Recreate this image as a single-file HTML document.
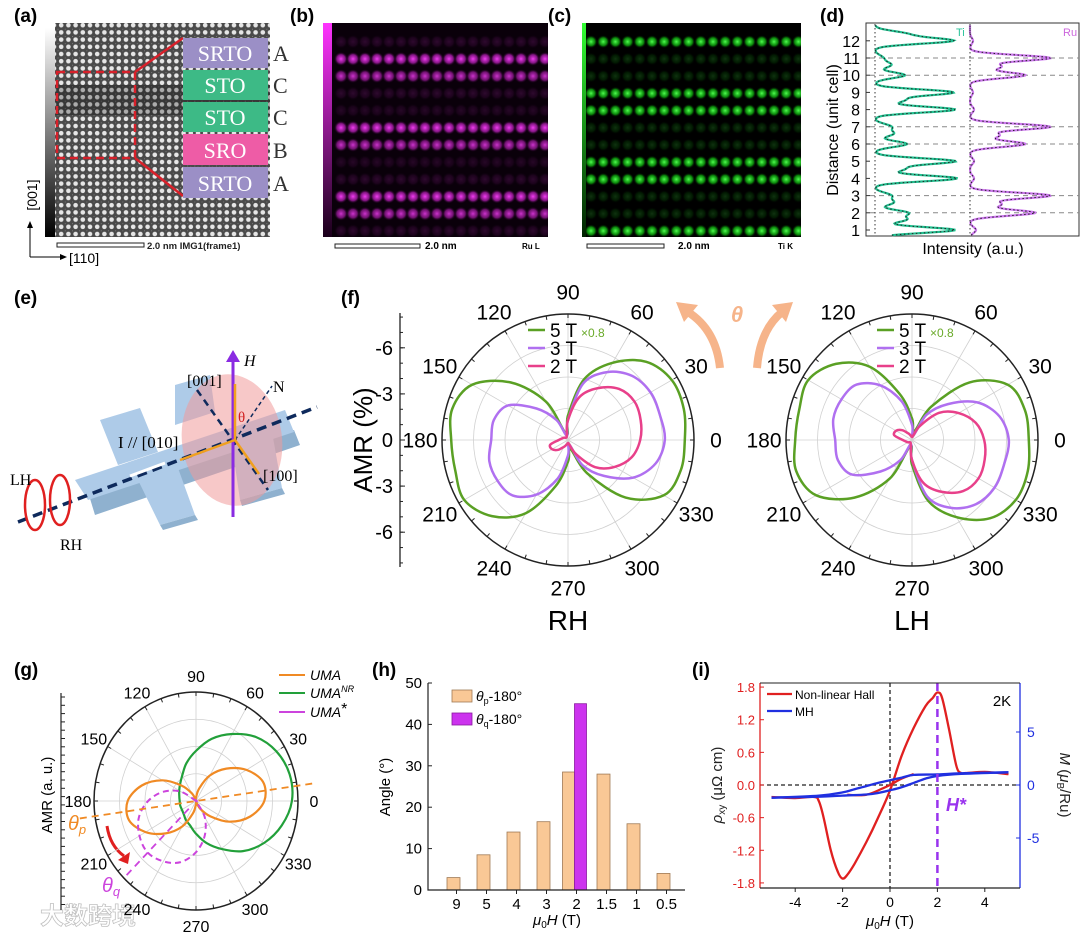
<!DOCTYPE html>
<html><head><meta charset="utf-8"><style>
html,body{margin:0;padding:0;background:#fff;}
svg{display:block;font-family:"Liberation Sans",Arial,sans-serif;}
.serif{font-family:"Liberation Serif","Times New Roman",serif;}
</style></head><body>
<svg id="fig" xmlns="http://www.w3.org/2000/svg" width="1080" height="936" viewBox="0 0 1080 936">
<defs>
 <linearGradient id="gcbar" x1="0" y1="0" x2="0" y2="1"><stop offset="0" stop-color="#fff"/><stop offset="1" stop-color="#000"/></linearGradient>
 <linearGradient id="mcbar" x1="0" y1="0" x2="0" y2="1"><stop offset="0" stop-color="#ff33ff"/><stop offset="1" stop-color="#1a001a"/></linearGradient>
 <linearGradient id="ccbar" x1="0" y1="0" x2="0" y2="1"><stop offset="0" stop-color="#33ff33"/><stop offset="1" stop-color="#002200"/></linearGradient>
 <radialGradient id="mdot"><stop offset="0" stop-color="#ff40ff"/><stop offset="0.6" stop-color="#c020c0" stop-opacity="0.7"/><stop offset="1" stop-color="#200020" stop-opacity="0"/></radialGradient>
 <radialGradient id="gdot"><stop offset="0" stop-color="#50ff50"/><stop offset="0.6" stop-color="#10c010" stop-opacity="0.7"/><stop offset="1" stop-color="#002000" stop-opacity="0"/></radialGradient>
 <pattern id="stem" width="7.2" height="7.2" patternUnits="userSpaceOnUse"><rect width="7.2" height="7.2" fill="#4a4a4a"/><circle cx="3.6" cy="3.6" r="2.3" fill="#e6e6e6"/><circle cx="0" cy="0" r="1" fill="#888"/></pattern>
 <clipPath id="clipb"><rect x="332" y="23" width="216" height="214"/></clipPath>
 <clipPath id="clipc"><rect x="586" y="23" width="215" height="214"/></clipPath>
</defs>

<g>
 <text x="14" y="22" font-size="19" font-weight="bold">(a)</text>
 <rect x="45" y="28" width="10" height="209" fill="url(#gcbar)"/>
 <rect x="55" y="23" width="215" height="214" fill="url(#stem)"/>
 <rect x="55" y="85" width="215" height="30" fill="#000" opacity="0.25"/>
 <rect x="57" y="72" width="78" height="86" fill="none" stroke="#d8202a" stroke-width="2.5" stroke-dasharray="8,5"/>
 <line x1="135" y1="72" x2="183" y2="38" stroke="#d8202a" stroke-width="2.5"/>
 <line x1="135" y1="158" x2="183" y2="196" stroke="#d8202a" stroke-width="2.5"/>
 <g class="serif" font-size="22" fill="#fff" text-anchor="middle">
  <rect x="183" y="38" width="85" height="30" fill="#9b8fc6"/><text x="225" y="61">SRTO</text>
  <rect x="183" y="70" width="85" height="30" fill="#3dba86"/><text x="225" y="93">STO</text>
  <rect x="183" y="102" width="85" height="30" fill="#3dba86"/><text x="225" y="125">STO</text>
  <rect x="183" y="134" width="85" height="31" fill="#ee5ca6"/><text x="225" y="158">SRO</text>
  <rect x="183" y="167" width="85" height="31" fill="#9b8fc6"/><text x="225" y="191">SRTO</text>
 </g>
 <g class="serif" font-size="22" fill="#333">
  <text x="273" y="61">A</text>
  <text x="273" y="93">C</text>
  <text x="273" y="125">C</text>
  <text x="273" y="158">B</text>
  <text x="273" y="191">A</text>
 </g>
 <rect x="57" y="243" width="87" height="4" fill="#fff" stroke="#222"/>
 <text x="147" y="249" font-size="9.5" font-weight="bold" fill="#222">2.0 nm IMG1(frame1)</text>
 <line x1="30" y1="257" x2="30" y2="226" stroke="#000"/>
 <polygon points="27,228 33,228 30,221"/>
 <line x1="30" y1="257" x2="62" y2="257" stroke="#000"/>
 <polygon points="60,254 60,260 67,257"/>
 <text transform="translate(37,195) rotate(-90)" font-size="14" text-anchor="middle">[001]</text>
 <text x="69" y="263" font-size="14">[110]</text>
</g>

<g>
 <text x="290" y="22" font-size="19" font-weight="bold">(b)</text>
 <rect x="323" y="23" width="225" height="214" fill="#0a000a"/>
 <rect x="323" y="23" width="9" height="214" fill="url(#mcbar)"/>
 <g id="bdots" clip-path="url(#clipb)"></g>
 <rect x="335" y="244" width="85" height="4" fill="#fff" stroke="#222"/>
 <text x="425" y="249" font-size="10" font-weight="bold">2.0 nm</text>
 <text x="522" y="249" font-size="8" font-weight="bold">Ru L</text>
</g>

<g>
 <text x="548" y="22" font-size="19" font-weight="bold">(c)</text>
 <rect x="582" y="23" width="219" height="214" fill="#000"/>
 <rect x="582" y="23" width="4" height="214" fill="url(#ccbar)"/>
 <g id="cdots" clip-path="url(#clipc)"></g>
 <rect x="587" y="244" width="77" height="4" fill="#fff" stroke="#222"/>
 <text x="678" y="249" font-size="10" font-weight="bold">2.0 nm</text>
 <text x="778" y="249" font-size="8" font-weight="bold">Ti K</text>
</g>

<g id="pd">
 <text x="820" y="22" font-size="19" font-weight="bold">(d)</text>
 <rect x="866" y="23" width="213" height="213" fill="none" stroke="#333"/>
 <text transform="translate(838,130) rotate(-90)" font-size="16" text-anchor="middle">Distance (unit cell)</text>
 <text x="973" y="254" font-size="16" text-anchor="middle">Intensity (a.u.)</text>
 <text x="956" y="36" font-size="11" fill="#2cc39a">Ti</text>
 <text x="1063" y="36" font-size="11" fill="#cc66dd">Ru</text>
</g>

<g>
 <text x="14" y="304" font-size="19" font-weight="bold">(e)</text>
 <g>
  <polygon points="88,492 95,515 300,445 294,430" fill="#8fb1cf"/>
  <polygon points="75,480 88,500 294,432 285,410" fill="#aecbe8"/>
  <polygon points="118,465 100,420 140,408 158,452" fill="#aecbe8"/>
  <polygon points="175,425 175,385 210,375 215,412" fill="#aecbe8"/>
  <polygon points="138,480 160,525 195,515 178,468" fill="#aecbe8"/>
  <polygon points="160,525 163,530 198,520 195,515" fill="#8fb1cf"/>
  <polygon points="232,445 240,500 282,488 272,432" fill="#aecbe8"/>
  <polygon points="240,500 242,506 285,494 282,488" fill="#8fb1cf"/>
 </g>
 <ellipse cx="232" cy="440" rx="50" ry="66" fill="#f09a9a" opacity="0.55" transform="rotate(-8 232 440)"/>
 <line x1="18" y1="522" x2="317" y2="407" stroke="#0e2a5c" stroke-width="3.5" stroke-dasharray="10,6"/>
 <line x1="197" y1="390" x2="268" y2="490" stroke="#0e2a5c" stroke-width="2.5" stroke-dasharray="7,5"/>
 <line x1="235" y1="440" x2="272" y2="386" stroke="#0e2a5c" stroke-width="1.5" stroke-dasharray="4,3"/>
 <line x1="233" y1="517" x2="233" y2="358" stroke="#8a2be2" stroke-width="3"/>
 <polygon points="226,362 240,362 233,350" fill="#8a2be2"/>
 <line x1="235" y1="440" x2="235" y2="384" stroke="#f0a020" stroke-width="2.5"/>
 <line x1="235" y1="440" x2="259" y2="474" stroke="#f0a020" stroke-width="2.5"/>
 <line x1="235" y1="440" x2="180" y2="460" stroke="#f0a020" stroke-width="2.5"/>
 <path d="M130,476 L165,463" stroke="#fff" stroke-width="3"/>
 <text x="244" y="366" class="serif" font-size="16" font-style="italic">H</text>
 <text x="187" y="386" class="serif" font-size="16">[001]</text>
 <text x="273" y="392" class="serif" font-size="16">N</text>
 <text x="238" y="422" class="serif" font-size="15" fill="#d02020">θ</text>
 <text x="263" y="481" class="serif" font-size="16">[100]</text>
 <text x="118" y="448" class="serif" font-size="17">I // [010]</text>
 <ellipse cx="35" cy="505" rx="10" ry="25" fill="none" stroke="#e02020" stroke-width="2.5"/>
 <ellipse cx="60" cy="500" rx="10" ry="25" fill="none" stroke="#e02020" stroke-width="2.5"/>
 <text x="10" y="485" class="serif" font-size="16">LH</text>
 <text x="60" y="550" class="serif" font-size="16">RH</text>
</g>

<g id="pf">
 <text x="341" y="304" font-size="19" font-weight="bold">(f)</text>
 <text transform="translate(372,440) rotate(-90)" font-size="26" text-anchor="middle">AMR (%)</text>
 <text x="568" y="630" font-size="28" text-anchor="middle">RH</text>
 <text x="912" y="630" font-size="28" text-anchor="middle">LH</text>
 <path d="M720,368 Q716,330 688,312" fill="none" stroke="#f6b48a" stroke-width="8"/>
 <polygon points="676,302 698,305 684,322" fill="#f6b48a"/>
 <path d="M757,368 Q760,330 782,312" fill="none" stroke="#f6b48a" stroke-width="8"/>
 <polygon points="793,302 772,305 786,322" fill="#f6b48a"/>
 <text x="737" y="322" font-size="22" font-weight="bold" font-style="italic" fill="#f6b48a" text-anchor="middle">θ</text>
</g>

<g id="pg">
 <text x="14" y="676" font-size="19" font-weight="bold">(g)</text>
 <text transform="translate(52,795) rotate(-90)" font-size="15" text-anchor="middle">AMR (a. u.)</text>
 <text x="68" y="830" font-size="20" font-style="italic" fill="#f08a24">θ<tspan font-size="13" dy="4">p</tspan></text>
 <text x="102" y="892" font-size="20" font-style="italic" fill="#cc44dd">θ<tspan font-size="13" dy="4">q</tspan></text>
 <path d="M107,826 Q110,846 124,856" fill="none" stroke="#e02020" stroke-width="3"/>
 <polygon points="118,860 130,852 128,864" fill="#e02020"/>
 <g>
  <line x1="279" y1="675" x2="305" y2="675" stroke="#f08a24" stroke-width="2"/>
  <text x="310" y="680" font-size="14" font-style="italic">UMA</text>
  <line x1="279" y1="693" x2="305" y2="693" stroke="#22a03a" stroke-width="2"/>
  <text x="310" y="698" font-size="14" font-style="italic">UMA<tspan font-size="9" dy="-6">NR</tspan></text>
  <line x1="279" y1="712" x2="305" y2="712" stroke="#cc44dd" stroke-width="2"/>
  <text x="310" y="717" font-size="14" font-style="italic">UMA<tspan font-size="16" dy="-3" font-style="normal">*</tspan></text>
 </g>
 <text x="40" y="924" font-size="24" font-weight="bold" fill="#fff" stroke="#bbb" stroke-width="0.8" opacity="0.9" font-family="'Liberation Sans','Noto Sans CJK SC',sans-serif">大数跨境</text>
</g>

<g id="ph">
 <text x="372" y="676" font-size="19" font-weight="bold">(h)</text>
 <text transform="translate(390,787) rotate(-90)" font-size="15" text-anchor="middle">Angle (°)</text>
 <text x="557" y="925" font-size="15" text-anchor="middle"><tspan font-style="italic">μ</tspan><tspan font-size="10" dy="3">0</tspan><tspan dy="-3" font-style="italic">H</tspan> (T)</text>
 <rect x="452" y="690" width="20" height="12" fill="#f9c896" stroke="#a07a55" stroke-width="0.8"/>
 <text x="476" y="701" font-size="14"><tspan font-style="italic">θ</tspan><tspan font-size="9" dy="3">p</tspan><tspan dy="-3">-180°</tspan></text>
 <rect x="452" y="713" width="20" height="12" fill="#cc33ee" stroke="#8a1aa0" stroke-width="0.8"/>
 <text x="476" y="724" font-size="14"><tspan font-style="italic">θ</tspan><tspan font-size="9" dy="3">q</tspan><tspan dy="-3">-180°</tspan></text>
</g>

<g id="pi">
 <text x="692" y="676" font-size="19" font-weight="bold">(i)</text>
 <text transform="translate(722,785) rotate(-90)" font-size="15" fill="#222" text-anchor="middle"><tspan font-style="italic">ρ</tspan><tspan font-size="10" dy="3">xy</tspan><tspan dy="-3"> (μΩ cm)</tspan></text>
 <text transform="translate(1060,785) rotate(90)" font-size="15" fill="#222" text-anchor="middle"><tspan font-style="italic">M</tspan> (<tspan font-style="italic">μ</tspan><tspan font-size="10" dy="3">B</tspan><tspan dy="-3">/Ru)</tspan></text>
 <text x="890" y="926" font-size="15" text-anchor="middle"><tspan font-style="italic">μ</tspan><tspan font-size="10" dy="3">0</tspan><tspan dy="-3" font-style="italic">H</tspan> (T)</text>
 <text x="1002" y="706" font-size="15" text-anchor="middle">2K</text>
 <line x1="767" y1="694" x2="792" y2="694" stroke="#e02020" stroke-width="2.2"/>
 <text x="795" y="699" font-size="12">Non-linear Hall</text>
 <line x1="767" y1="711" x2="792" y2="711" stroke="#2030e0" stroke-width="2.2"/>
 <text x="795" y="716" font-size="12">MH</text>
 <text x="946" y="811" font-size="18" font-weight="bold" font-style="italic" fill="#9933ee">H*</text>
</g>
</svg>

<script>
const NS='http://www.w3.org/2000/svg';
function mk(tag,attrs,parent){const e=document.createElementNS(NS,tag);for(const k in attrs)e.setAttribute(k,attrs[k]);parent.appendChild(e);return e;}
function smooth(pts,closed){
 const n=pts.length;let d='M'+pts[0][0].toFixed(1)+','+pts[0][1].toFixed(1);
 const get=i=>closed?pts[(i+n)%n]:pts[Math.max(0,Math.min(n-1,i))];
 const m=closed?n:n-1;
 for(let i=0;i<m;i++){const p0=get(i-1),p1=get(i),p2=get(i+1),p3=get(i+2);
  const c1=[p1[0]+(p2[0]-p0[0])/6,p1[1]+(p2[1]-p0[1])/6],c2=[p2[0]-(p3[0]-p1[0])/6,p2[1]-(p3[1]-p1[1])/6];
  d+='C'+c1[0].toFixed(1)+','+c1[1].toFixed(1)+' '+c2[0].toFixed(1)+','+c2[1].toFixed(1)+' '+p2[0].toFixed(1)+','+p2[1].toFixed(1);}
 return d+(closed?'Z':'');}

const ruRowIntensity=[0.15,0.95,0.8,0.15,0.12,0.95,0.8,0.12,0.15,0.95,0.8,0.15];
const tiRowIntensity=[1,0.2,0.2,1,1,0.2,0.2,1,1,0.2,0.2,1];
(function(){
 const bg=document.getElementById('bdots');
 ruRowIntensity.forEach((v,r)=>{for(let c=0;c<18;c++){
  const e=mk('circle',{cx:341+c*12,cy:41.7+r*17.2,r:7,fill:'url(#mdot)',opacity:v},bg);
  
  }});
 const cg=document.getElementById('cdots');
 tiRowIntensity.forEach((v,r)=>{for(let c=0;c<18;c++){
  const e=mk('circle',{cx:591+c*12.2,cy:41.7+r*17.2,r:6.5,fill:'url(#gdot)',opacity:v},cg);
  
  }});
})();

const dTicks=[1,2,3,4,5,6,7,8,9,10,11,12];
const dDashed=[2,3,6,7,10,11];
const tiPeakPos=[1,1.6,2,2.6,3,4,4.55,5,6,6.6,7,8,8.55,9,10,10.6,11,12,12.4];
const tiPeakAmp=[80,30,32,18,16,82,28,80,32,18,16,80,28,78,30,16,8,77,30];
const ruPeakPos=[1,2,2.5,3,4,5,6,6.5,7,8,9,10,10.5,11,12];
const ruPeakAmp=[6,65,30,80,4,4,55,28,80,4,3,55,30,80,3];
(function(){
 const g=document.getElementById('pd');
 const yD=v=>230-(v-1)*17.2;
 dDashed.forEach(v=>{const e=mk('line',{x1:870,x2:1079,y1:yD(v),y2:yD(v),stroke:'#888','stroke-dasharray':'5,4'},g);
  
  });
 dTicks.forEach(v=>{const t=mk('text',{x:860,y:yD(v)+6,'font-size':16,'text-anchor':'end'},g);t.textContent=v;
  
  
  const l=mk('line',{x1:866,x2:870,y1:yD(v),y2:yD(v),stroke:'#333'},g);
  
  });
 function prof(pos,amp,base,col,name){
  const pts=[];for(let v=0.7;v<=12.9;v+=0.04){let s=0;pos.forEach((p,i)=>{s+=amp[i]*Math.exp(-Math.pow((v-p)/0.17,2)/2);});pts.push([base+s,yD(v)]);}
  const d='M'+pts.map(p=>p[0].toFixed(1)+','+p[1].toFixed(1)).join('L');
  const e=mk('path',{d:d,fill:'none',stroke:col,'stroke-width':2.2},g);
  
  
  const e2=mk('path',{d:d,fill:'none',stroke:'#222','stroke-width':1,'stroke-dasharray':'1.5,2.5'},g);
  
  
  const b=mk('line',{x1:base,x2:base,y1:24,y2:235,stroke:'#333','stroke-dasharray':'1.5,2.5'},g);
  
  }
 prof(tiPeakPos,tiPeakAmp,875,'#22c090','ti-profile');
 prof(ruPeakPos,ruPeakAmp,970,'#cc77ee','ru-profile');
})();

const polarAngles=[0,15,30,45,60,75,90,105,120,135,150,165,180,195,210,225,240,255,270,285,300,315,330,345];
const gridAngles=[0,30,60,90,120,150,180,210,240,270,300,330];
function polarGrid(g,cx,cy,Rx,Ry,fs,off,prefix){
 [0.25,0.5,0.75].forEach(f=>{const e=mk('ellipse',{cx:cx,cy:cy,rx:Rx*f,ry:Ry*f,fill:'none',stroke:'#d0d0d0','stroke-width':0.8},g);
  
  });
 gridAngles.forEach(a=>{const r=a*Math.PI/180;
  const l=mk('line',{x1:cx,y1:cy,x2:cx+Rx*Math.cos(r),y2:cy-Ry*Math.sin(r),stroke:'#d0d0d0','stroke-width':0.8},g);
  
  
  const t=mk('text',{x:cx+(Rx+off)*Math.cos(r),y:cy-(Ry+off)*Math.sin(r)+fs*0.36,'font-size':fs,'text-anchor':'middle'},g);
  t.textContent=a;
  
  });
 const o=mk('ellipse',{cx:cx,cy:cy,rx:Rx,ry:Ry,fill:'none',stroke:'#222','stroke-width':1.5},g);
 
 
 for(let a=0;a<360;a+=10){const r=a*Math.PI/180;
  const tk=mk('line',{x1:cx+Rx*Math.cos(r),y1:cy-Ry*Math.sin(r),x2:cx+(Rx-4)*Math.cos(r),y2:cy-(Ry-4)*Math.sin(r),stroke:'#222'},g);
  
  }}
function polarCurve(g,cx,cy,Rx,Ry,maxV,angles,vals,col,w,dash,closed,name){
 const pts=angles.map((a,i)=>{const r=a*Math.PI/180,v=vals[i]/maxV;return [cx+Rx*v*Math.cos(r),cy-Ry*v*Math.sin(r)];});
 const e=mk('path',{d:smooth(pts,closed),fill:'none',stroke:col,'stroke-width':w,'stroke-dasharray':dash||'none'},g);
 
 }

const fMax=8.2;
const amrTickVals=[-6,-3,0,-3,-6];
const amrTickPos=[6,3,0,-3,-6];
const rh5T=[7.6,7.8,7.8,7.2,5.8,4.1,1.6,0.4,2.9,5.3,7.2,7.8,7.6,7.6,7.8,7.0,5.5,3.1,1.4,0.6,2.5,5.3,7.2,7.6];
const rh3T=[6.3,6.2,6.2,5.9,5.1,3.8,1.3,0.3,1.5,2.9,4.5,5.0,5.0,5.3,5.3,5.1,4.1,2.6,1.0,0.3,1.9,3.3,4.9,5.9];
const rh2T=[4.7,4.9,5.0,4.7,3.9,2.9,1.3,0.3,0.2,0.2,0.3,0.4,0.6,1.2,1.2,0.9,0.5,0.3,0.2,0.3,1.1,2.5,3.5,4.3];
const lh5T=[7.6,7.6,7.2,5.3,2.5,0.6,1.4,3.1,5.5,7.0,7.8,7.6,7.6,7.8,7.2,5.3,2.9,0.4,1.6,4.1,5.8,7.2,7.8,7.8];
const lh3T=[6.3,5.9,4.9,3.3,1.9,0.3,1.0,2.6,4.1,5.1,5.3,5.3,5.0,5.0,4.5,2.9,1.5,0.3,1.3,3.8,5.1,5.9,6.2,6.2];
const lh2T=[4.7,4.3,3.5,2.5,1.1,0.3,0.2,0.3,0.5,0.9,1.2,1.2,0.6,0.4,0.3,0.2,0.2,0.3,1.3,2.9,3.9,4.7,5.0,4.9];
(function(){
 const g=document.getElementById('pf');
 const R=126;
 [[568,440,'rh',rh5T,rh3T,rh2T,528],[912,440,'lh',lh5T,lh3T,lh2T,877]].forEach(c=>{
  const [cx,cy,p,s5,s3,s2,lx]=c;
  polarGrid(g,cx,cy,R,R,21,22,p);
  polarCurve(g,cx,cy,R,R,fMax,polarAngles,s5,'#5aa024',2.5,null,true,p+'-5t-curve');
  polarCurve(g,cx,cy,R,R,fMax,polarAngles,s3,'#b070f0',2.5,null,true,p+'-3t-curve');
  polarCurve(g,cx,cy,R,R,fMax,polarAngles,s2,'#e8408a',2.5,null,true,p+'-2t-curve');
  const leg=[['#5aa024','5 T',330],['#b070f0','3 T',348],['#e8408a','2 T',366]];
  leg.forEach(L=>{const l=mk('line',{x1:lx,x2:lx+17,y1:L[2],y2:L[2],stroke:L[0],'stroke-width':2.5},g);
   
   
   const t=mk('text',{x:lx+22,y:L[2]+7,'font-size':19},g);t.textContent=L[1];
   
   });
  const x8=mk('text',{x:lx+53,y:337,'font-size':12,fill:'#6aaa2a'},g);x8.textContent='×0.8';
  
  
 });
 const ax=mk('line',{x1:400,x2:400,y1:313,y2:567,stroke:'#222','stroke-width':1.3},g);
 
 
 amrTickPos.forEach((v,i)=>{const y=440-v/fMax*R;
  const t=mk('text',{x:393,y:y+7,'font-size':20,'text-anchor':'end'},g);t.textContent=amrTickVals[i];
  
  
  const l=mk('line',{x1:400,x2:405,y1:y,y2:y,stroke:'#222'},g);
  
  });
 for(let v=-8;v<=8;v+=1){const y=440-v/fMax*R;const l=mk('line',{x1:400,x2:403,y1:y,y2:y,stroke:'#222'},g);
  
  }
})();

const umaVals=[0.67,0.68,0.57,0.42,0.27,0.12,0.03,0.01,0.08,0.2,0.38,0.55,0.67,0.68,0.57,0.42,0.27,0.12,0.03,0.01,0.08,0.2,0.38,0.55];
const umaNrVals=[0.94,0.95,0.91,0.83,0.71,0.59,0.46,0.36,0.27,0.22,0.19,0.17,0.16,0.16,0.16,0.17,0.2,0.23,0.3,0.4,0.51,0.65,0.77,0.87];
const umaStarAngles=[135,150,165,180,195,210,225,240,255,270,285,300,315];
const umaStarVals=[0,0.17,0.33,0.47,0.58,0.64,0.67,0.64,0.58,0.47,0.33,0.17,0];
const thetaP=8, thetaQ=225;
(function(){
 const g=document.getElementById('pg');
 const cx=196,cy=801,Rx=102,Ry=109;
 polarGrid(g,cx,cy,Rx,Ry,16,16,'g');
 polarCurve(g,cx,cy,Rx,Ry,1,polarAngles,umaNrVals,'#22a03a',2.2,null,true,'uma-nr-curve');
 polarCurve(g,cx,cy,Rx,Ry,1,polarAngles,umaVals,'#f08a24',2.2,null,true,'uma-curve');
 polarCurve(g,cx,cy,Rx,Ry,1,umaStarAngles,umaStarVals,'#cc44dd',2,'6,4',true,'uma-star-curve');
 const rp=thetaP*Math.PI/180;
 const pl=mk('line',{x1:cx-Rx*1.15*Math.cos(rp),y1:cy+Ry*1.15*Math.sin(rp),x2:cx+Rx*1.15*Math.cos(rp),y2:cy-Ry*1.15*Math.sin(rp),stroke:'#f08a24','stroke-width':1.8,'stroke-dasharray':'7,5'},g);
 
 
 const rq=thetaQ*Math.PI/180;
 const ql=mk('line',{x1:cx+Rx*0.1*Math.cos(rq),y1:cy-Ry*0.1*Math.sin(rq),x2:cx+Rx*Math.cos(rq),y2:cy-Ry*Math.sin(rq),stroke:'#cc44dd','stroke-width':1.8,'stroke-dasharray':'7,5'},g);
 
 
 const ax=mk('line',{x1:61,x2:61,y1:693,y2:910,stroke:'#222','stroke-width':1.2},g);
 
 
 for(let y=697;y<910;y+=8.3){const l=mk('line',{x1:61,x2:65,y1:y,y2:y,stroke:'#222'},g);
  
  }
})();

const hCategories=['9','5','4','3','2','1.5','1','0.5'];
const thetaPVals=[3,8.5,14,16.5,28.5,28,16,4];
const thetaQVals=[null,null,null,null,45,null,null,null];
const hYTicks=[0,10,20,30,40,50];
(function(){
 const g=document.getElementById('ph');
 const x0=428,x1=685,y0=890,y50=683;
 const yS=v=>y0-(v/50)*(y0-y50);
 const xC=i=>x0+(i+0.85)*30;
 hCategories.forEach((c,i)=>{
  const pair=thetaQVals[i]!==null;
  const cx=xC(i)+(pair?1:0);
  const bx=pair?cx-12:cx-6.5;
  const b=mk('rect',{x:bx,y:yS(thetaPVals[i]),width:pair?12:13,height:y0-yS(thetaPVals[i]),fill:'#f9c896',stroke:'#a07a55','stroke-width':0.8},g);
  
  
  if(pair){const q=mk('rect',{x:cx,y:yS(thetaQVals[i]),width:12,height:y0-yS(thetaQVals[i]),fill:'#cc33ee',stroke:'#8a1aa0','stroke-width':0.8},g);
   
   }
  const t=mk('text',{x:xC(i)+3,y:y0+19,'font-size':15,'text-anchor':'middle'},g);t.textContent=c;
  
  
  const tk=mk('line',{x1:xC(i)+3,x2:xC(i)+3,y1:y0,y2:y0+4,stroke:'#222'},g);
  
  });
 hYTicks.forEach(v=>{const t=mk('text',{x:x0-6,y:yS(v)+5,'font-size':15,'text-anchor':'end'},g);t.textContent=v;
  
  
  const l=mk('line',{x1:x0,x2:x0+4,y1:yS(v),y2:yS(v),stroke:'#222'},g);
  
  });
 const ax=mk('path',{d:'M'+x0+','+y50+'V'+y0+'H'+x1,fill:'none',stroke:'#222','stroke-width':1.2},g);
 
 
})();

const hallX=[-5,-4,-3.2,-3,-2.8,-2.5,-2.2,-2,-1.8,-1.5,-1,-0.5,0,0.5,1,1.5,1.8,2,2.2,2.5,2.8,3,3.2,4,5];
const hallY=[-0.22,-0.24,-0.22,-0.3,-0.6,-1.2,-1.6,-1.72,-1.65,-1.45,-1.05,-0.6,-0.1,0.55,1.05,1.45,1.6,1.7,1.6,1.0,0.35,0.22,0.22,0.24,0.2];
const hall2X=[-1.8,-1,-0.3,0,0.5,1];
const hall2Y=[-0.18,-0.18,-0.06,0,0.12,0.2];
const mhUpX=[5,3,2,1,0.5,0,-0.5,-1,-1.5,-2,-3,-5];
const mhUpY=[1.2,1.1,1.0,0.95,0.7,0.45,0.2,-0.1,-0.4,-0.7,-1.0,-1.2];
const mhDnX=[-5,-3,-2,-1,-0.5,0,0.5,1,1.5,2,3,5];
const mhDnY=[-1.2,-1.1,-1.0,-0.9,-0.75,-0.5,-0.2,0.2,0.6,0.85,1.05,1.2];
const iXTicks=[-4,-2,0,2,4];
const rhoTicks=[1.8,1.2,0.6,0.0,-0.6,-1.2,-1.8];
const mTicks=[5,0,-5];
const hStar=2;
(function(){
 const g=document.getElementById('pi');
 const xL=760,xR=1020,yT=683,yB=888;
 const xS=v=>890+23.7*v, yS=v=>785-54.4*v, mS=v=>785-10.6*v;
 const z1=mk('line',{x1:xS(0),x2:xS(0),y1:yT,y2:yB,stroke:'#222','stroke-dasharray':'4,3','stroke-width':1.3},g);
 
 
 const z2=mk('line',{x1:xL,x2:xR,y1:yS(0),y2:yS(0),stroke:'#222','stroke-dasharray':'4,3','stroke-width':1.3},g);
 
 
 const line=(xs,ys,sy,col,name)=>{const e=mk('path',{d:smooth(xs.map((x,i)=>[xS(x),sy(ys[i])]),false),fill:'none',stroke:col,'stroke-width':2.3},g);
  
  };
 line(hallX,hallY,yS,'#e02020','hall-curve');
 line(hall2X,hall2Y,yS,'#e02020','hall-curve-return');
 line(mhUpX,mhUpY,mS,'#2030e0','mh-curve-down-sweep');
 line(mhDnX,mhDnY,mS,'#2030e0','mh-curve-up-sweep');
 const hs=mk('line',{x1:xS(hStar),x2:xS(hStar),y1:yT,y2:yB,stroke:'#9933ee','stroke-dasharray':'8,5','stroke-width':2.5},g);
 
 
 const l=mk('line',{x1:xL,x2:xL,y1:yT,y2:yB,stroke:'#e02020','stroke-width':1.3},g);
 
 
 const r=mk('line',{x1:xR,x2:xR,y1:yT,y2:yB,stroke:'#2030e0','stroke-width':1.3},g);
 
 
 const b=mk('line',{x1:xL,x2:xR,y1:yB,y2:yB,stroke:'#222','stroke-width':1.3},g);
 
 
 const t0=mk('line',{x1:xL,x2:xR,y1:yT,y2:yT,stroke:'#222','stroke-width':1},g);
 
 
 iXTicks.forEach(v=>{const t=mk('text',{x:xS(v),y:yB+19,'font-size':14,'text-anchor':'middle'},g);t.textContent=v;
  
  
  const k=mk('line',{x1:xS(v),x2:xS(v),y1:yB,y2:yB+4,stroke:'#222'},g);
  
  });
 rhoTicks.forEach(v=>{const t=mk('text',{x:xL-5,y:yS(v)+5,'font-size':13,fill:'#e02020','text-anchor':'end'},g);t.textContent=v.toFixed(1);
  
  
  const k=mk('line',{x1:xL,x2:xL+4,y1:yS(v),y2:yS(v),stroke:'#e02020'},g);
  
  });
 mTicks.forEach(v=>{const t=mk('text',{x:xR+7,y:mS(v)+5,'font-size':14,fill:'#2030e0'},g);t.textContent=v;
  
  
  const k=mk('line',{x1:xR-4,x2:xR,y1:mS(v),y2:mS(v),stroke:'#2030e0'},g);
  
  });
})();
</script>
</body></html>
